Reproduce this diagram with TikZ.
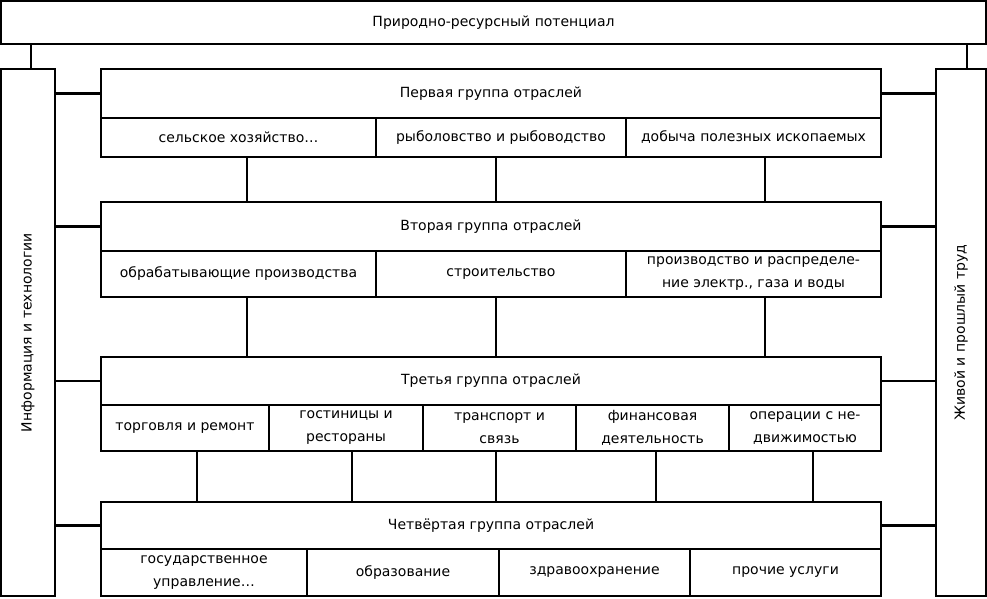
\documentclass[tikz,border=0pt]{standalone}
\usepackage{fontspec}
\setmainfont{DejaVu Sans}
\begin{document}
\begin{tikzpicture}[x=1pt,y=-1pt,
  bx/.style={draw, line width=2.4pt, inner sep=0pt, align=center,
    font=\fontsize{14}{23}\selectfont},
  conn/.style={line width=2.4pt}]
\useasboundingbox (0,0) rectangle (987,598);
\newcommand\mycell[6]{\node[bx, minimum width=#4pt, minimum height=#5pt] (#1) at (#2,#3) {#6};}
% frame
\mycell{top}{493.5}{22.5}{985}{43}{Природно-ресурсный потенциал}
\node[bx, minimum width=54pt, minimum height=527pt] (L) at (28,332.5) {};
\node[rotate=90, font=\fontsize{14}{23}\selectfont] (Lt) at (L.center) {Информация и технологии};
\node[bx, minimum width=50pt, minimum height=527pt] (R) at (961,332.5) {};
\node[rotate=90, font=\fontsize{14}{23}\selectfont] (Rt) at (R.center) {Живой и прошлый труд};
% group 1
\mycell{g1}{491}{93.5}{780}{49}{Первая группа отраслей}
\mycell{g1a}{238.5}{137.5}{275}{39}{сельское хозяйство…}
\mycell{g1b}{501}{137.5}{250}{39}{рыболовство и рыбоводство}
\mycell{g1c}{753.5}{137.5}{255}{39}{добыча полезных ископаемых}
% group 2
\mycell{g2}{491}{226.5}{780}{49}{Вторая группа отраслей}
\mycell{g2a}{238.5}{274}{275}{46}{обрабатывающие производства}
\mycell{g2b}{501}{274}{250}{46}{строительство}
\mycell{g2c}{753.5}{274}{255}{46}{производство и распределе-\\ние электр., газа и воды}
% group 3
\mycell{g3}{491}{381}{780}{48}{Третья группа отраслей}
\mycell{g3a}{185}{428}{168}{46}{торговля и ремонт}
\mycell{g3b}{346}{428}{154}{46}{гостиницы и\\рестораны}
\mycell{g3c}{499.5}{428}{153}{46}{транспорт и\\связь}
\mycell{g3d}{652.5}{428}{153}{46}{финансовая\\деятельность}
\mycell{g3e}{805}{428}{152}{46}{операции с не-\\движимостью}
% group 4
\mycell{g4}{491}{525.5}{780}{47}{Четвёртая группа отраслей}
\mycell{g4a}{204}{572.5}{206}{47}{государственное\\управление…}
\mycell{g4b}{403}{572.5}{192}{47}{образование}
\mycell{g4c}{594.5}{572.5}{191}{47}{здравоохранение}
\mycell{g4d}{785.5}{572.5}{191}{47}{прочие услуги}
% top connectors
\coordinate (tl) at (31,0);
\coordinate (tr) at (967,0);
\draw[conn] (tl |- top.south) -- (tl |- L.north);
\draw[conn] (tr |- top.south) -- (tr |- R.north);
% side connectors
\foreach \g in {g1,g2,g3,g4}{
  \draw[conn] (\g.west) -- (\g.west -| L.east);
  \draw[conn] (\g.east) -- (\g.east -| R.west);
}
% vertical connectors
\coordinate (v1) at (247,0);
\coordinate (v2) at (496,0);
\coordinate (v3) at (765,0);
\draw[conn] (v1 |- g1a.south) -- (v1 |- g2.north);
\draw[conn] (v2 |- g1b.south) -- (v2 |- g2.north);
\draw[conn] (v3 |- g1c.south) -- (v3 |- g2.north);
\draw[conn] (v1 |- g2a.south) -- (v1 |- g3.north);
\draw[conn] (v2 |- g2b.south) -- (v2 |- g3.north);
\draw[conn] (v3 |- g2c.south) -- (v3 |- g3.north);
\coordinate (w1) at (197,0);
\coordinate (w2) at (352,0);
\coordinate (w3) at (496,0);
\coordinate (w4) at (656,0);
\coordinate (w5) at (813,0);
\draw[conn] (w1 |- g3a.south) -- (w1 |- g4.north);
\draw[conn] (w2 |- g3b.south) -- (w2 |- g4.north);
\draw[conn] (w3 |- g3c.south) -- (w3 |- g4.north);
\draw[conn] (w4 |- g3d.south) -- (w4 |- g4.north);
\draw[conn] (w5 |- g3e.south) -- (w5 |- g4.north);
\end{tikzpicture}
\end{document}
